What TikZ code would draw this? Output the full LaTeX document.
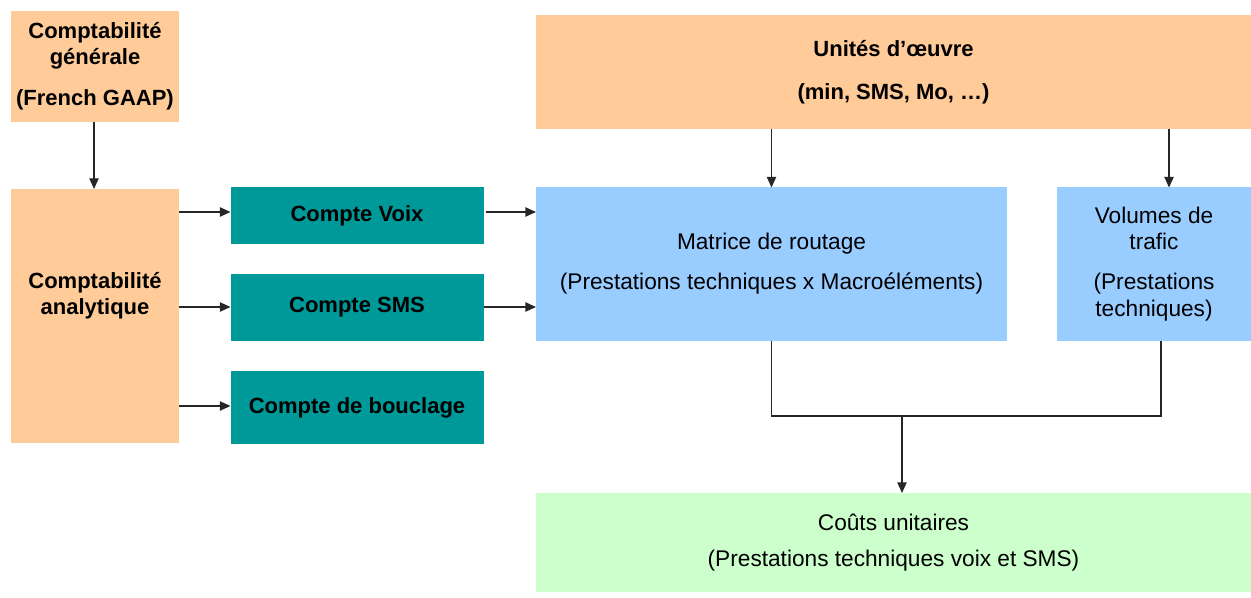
\documentclass[tikz,border=0pt]{standalone}
\usepackage{fontspec}
\setmainfont{Liberation Sans}
\usetikzlibrary{arrows.meta}
\definecolor{peach}{HTML}{FFCC99}
\definecolor{tealbox}{HTML}{009999}
\definecolor{skyb}{HTML}{99CCFF}
\definecolor{mint}{HTML}{CCFFCC}
\begin{document}
\begin{tikzpicture}[x=0.75pt,y=-0.75pt,
  box/.style={inner sep=0pt, outer sep=0pt, align=center, draw=none},
  arr/.style={-{Triangle[length=8pt,width=7pt]}, line width=1pt, black!85},
  ln/.style={line width=1pt, black!85},
  bf/.style={font=\fontsize{16.5}{19.5}\selectfont\bfseries},
  rg/.style={font=\fontsize{17}{20}\selectfont}]
\useasboundingbox (0,0) rectangle (1251,598);

% left column
\node[box, bf, fill=peach, minimum width=126pt, minimum height=83.25pt] (CG) at (95,66.5)
  {Comptabilité\\générale\\[11pt](French GAAP)};
\node[box, fill=peach, minimum width=126pt, minimum height=190.5pt] (CA) at (95,316) {};
\node[bf, align=center, inner sep=0pt] (catext) at (95,296) {Comptabilité\\analytique};

% teal accounts
\node[box, bf, fill=tealbox, minimum width=189.75pt, minimum height=42.75pt] (CV) at (357,215.5) {Compte Voix};
\node[box, bf, fill=tealbox, minimum width=189.75pt, minimum height=49.5pt] (CS) at (357,307.5) {Compte SMS};
\node[box, bf, fill=tealbox, minimum width=189.75pt, minimum height=54.75pt] (CB) at (357,407.5) {Compte de bouclage};

% right part
\node[box, bf, fill=peach, minimum width=536.25pt, minimum height=85.5pt] (UO) at (893.5,72)
  {Unités d’œuvre\\[12.5pt](min, SMS, Mo, …)};
\node[box, rg, fill=skyb, minimum width=353.25pt, minimum height=114.75pt] (MAT) at (771.5,264)
  {Matrice de routage\\[10pt](Prestations techniques x Macroéléments)};
\node[box, rg, fill=skyb, minimum width=145.5pt, minimum height=114.75pt] (VOL) at (1154,264)
  {Volumes de\\trafic\\[10pt](Prestations\\techniques)};
\node[box, rg, fill=mint, minimum width=536.25pt, minimum height=74.25pt] (CU) at (893.5,542.5)
  {Coûts unitaires\\[7.5pt](Prestations techniques voix et SMS)};

% connectors
\draw[arr] (CG.south -| 94,0) -- (CA.north -| 94,0);
\draw[arr] (CA.east |- 0,212) -- (CV.west |- 0,212);
\draw[arr] (CA.east |- 0,307) -- (CS.west |- 0,307);
\draw[arr] (CA.east |- 0,406) -- (CB.west |- 0,406);
\draw[arr] ([xshift=1.5pt]CV.east |- 0,212) -- (MAT.west |- 0,212);
\draw[arr] (CS.east |- 0,307) -- (MAT.west |- 0,307);
\draw[arr] (UO.south -| MAT.north) -- (MAT.north);
\draw[arr] (UO.south -| 1169,0) -- (VOL.north -| 1169,0);

\coordinate (jl) at (771.5,416);
\coordinate (jr) at (1161,416);
\coordinate (jm) at (902,416);
\draw[ln] (MAT.south) -- (jl) -- (jr) -- (jr |- VOL.south);
\draw[arr] (jm) -- (jm |- CU.north);
\end{tikzpicture}
\end{document}
